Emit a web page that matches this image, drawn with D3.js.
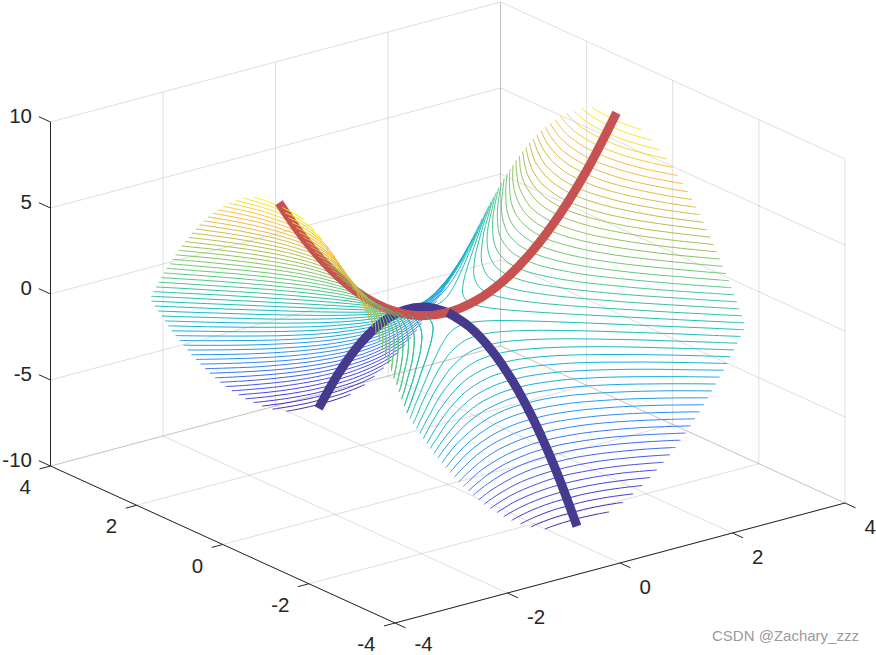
<!DOCTYPE html>
<meta charset="utf-8">
<style>
  body { margin: 0; background: #fff; }
  text { font-family: "Liberation Sans", Arial, sans-serif; fill: #262626; }
</style>
<body>
<div id="my_dataviz"></div>

<!-- Load d3.js -->
<script src="https://d3js.org/d3.v7.min.js"></script>
<script>

// Tick labels of the three axes
var xTicks = [-4, -2, 0, 2, 4];
var yTicks = [-4, -2, 0, 2, 4];
var zTicks = [-10, -5, 0, 5, 10];

// Contour levels (absolute value), the same set above and below zero
var levels = [0.17, 0.51, 0.85, 1.19, 1.53, 1.87, 2.21, 2.55, 2.89, 3.23, 3.57, 3.91, 4.25,
              4.59, 4.93, 5.27, 5.61, 5.95, 6.29, 6.63, 6.97, 7.31, 7.65, 7.99, 8.33, 8.67];

var across = [0, 0.2, 0.4, 0.7, 1, 1.4, 1.8, 2.2, 2.6, 2.9];

// Distance from the centre of each contour at the positions above
var reach = [
  [0.41, 0.46, 0.57, 0.81, 1.08, 1.46, 1.85, 2.24, 2.63, 2.93],
  [0.71, 0.74, 0.82, 1.00, 1.23, 1.57, 1.94, 2.31, 2.70],
  [0.92, 0.94, 1.00, 1.16, 1.36, 1.68, 2.02, 2.39, 2.76],
  [1.09, 1.11, 1.16, 1.30, 1.48, 1.77, 2.10, 2.46, 2.82],
  [1.24, 1.25, 1.30, 1.42, 1.59, 1.87, 2.18, 2.52, 2.88],
  [1.37, 1.38, 1.42, 1.54, 1.69, 1.96, 2.26, 2.59, 2.94],
  [1.49, 1.50, 1.54, 1.64, 1.79, 2.04, 2.33, 2.66],
  [1.60, 1.61, 1.65, 1.74, 1.88, 2.12, 2.41, 2.72],
  [1.70, 1.71, 1.75, 1.84, 1.97, 2.20, 2.48, 2.78],
  [1.80, 1.81, 1.84, 1.93, 2.06, 2.28, 2.54, 2.84],
  [1.89, 1.90, 1.93, 2.01, 2.14, 2.35, 2.61, 2.90],
  [1.98, 1.99, 2.02, 2.10, 2.22, 2.42, 2.67, 2.96],
  [2.06, 2.07, 2.10, 2.18, 2.29, 2.49, 2.74],
  [2.14, 2.15, 2.18, 2.25, 2.36, 2.56, 2.80],
  [2.22, 2.23, 2.26, 2.33, 2.44, 2.62, 2.86],
  [2.30, 2.30, 2.33, 2.40, 2.50, 2.69, 2.92],
  [2.37, 2.38, 2.40, 2.47, 2.57, 2.75, 2.97],
  [2.44, 2.45, 2.47, 2.54, 2.64, 2.81],
  [2.51, 2.52, 2.54, 2.60, 2.70, 2.87],
  [2.57, 2.58, 2.61, 2.67, 2.76, 2.93],
  [2.64, 2.65, 2.67, 2.73, 2.82],
  [2.70, 2.71, 2.73, 2.79, 2.88],
  [2.77, 2.77, 2.79, 2.85, 2.94],
  [2.83, 2.83, 2.85, 2.91],
  [2.89, 2.89, 2.91, 2.97],
  [2.94, 2.95, 2.97]
];

// Where each contour runs into the edge of the surface (at distance 3)
var edgeAcross = [2.97, 2.91, 2.85, 2.79, 2.73, 2.67, 2.61, 2.54, 2.47, 2.40, 2.33, 2.26, 2.18,
                  2.10, 2.02, 1.93, 1.84, 1.75, 1.65, 1.54, 1.42, 1.30, 1.16, 1.00, 0.82, 0.57];
var edgeReach = 3;

// The two thick curves
var redX = [-3, -2.5, -2, -1.5, -1, -0.5, 0, 0.5, 1, 1.5, 2, 2.5, 3];
var redZ = [9, 6.25, 4, 2.25, 1, 0.25, 0, 0.25, 1, 2.25, 4, 6.25, 9];
var blueY = [3, 2.5, 2, 1.5, 1, 0.5, 0];
var blueZ = [-9, -6.25, -4, -2.25, -1, -0.25, 0];
var blueNearY = [0, -0.5, -1, -1.5, -2, -2.5, -3];
var blueNearZ = [0, -0.25, -1, -2.25, -4, -6.25, -9];

// Colormap (parula)
var colorStops = ["#3e26a8", "#4748ee", "#2f87f5", "#12b1d6", "#1cbfb4", "#66c878", "#b5bd4a", "#fbba39", "#f9fb15"];

var width = 876, height = 655;

// Screen offsets of the three data axes (oblique view, all straight)
var xToPx = d3.scaleLinear().domain([-4, 4]).range([-225, 225]);
var xToPy = d3.scaleLinear().domain([-4, 4]).range([60, -60]);
var yToPx = d3.scaleLinear().domain([-4, 4]).range([172.25, -172.25]);
var yToPy = d3.scaleLinear().domain([-4, 4]).range([78.5, -78.5]);
var zToPy = d3.scaleLinear().domain([-10, 10]).range([172, -172]);
var originX = 447.75, originY = 312.5;

function px(p) { return originX + xToPx(p[0]) + yToPx(p[1]); }
function py(p) { return originY + xToPy(p[0]) + yToPy(p[1]) + zToPy(p[2]); }

var line3d = d3.line().x(px).y(py).curve(d3.curveCatmullRom.alpha(0.5));
var straight = d3.line().x(px).y(py);

var color = d3.scaleLinear()
  .domain(colorStops.map(function(c, i) { return -9 + 18 * i / (colorStops.length - 1); }))
  .range(colorStops)
  .interpolate(d3.interpolateRgb);

var svg = d3.select("#my_dataviz")
  .append("svg")
    .attr("width", width)
    .attr("height", height)
    .style("display", "block");

// Grid on the floor and the two back walls
var grid = [];
xTicks.forEach(function(t) {
  grid.push([[t, -4, -10], [t, 4, -10]]);
  grid.push([[t, 4, -10], [t, 4, 10]]);
});
yTicks.forEach(function(t) {
  grid.push([[-4, t, -10], [4, t, -10]]);
  grid.push([[4, t, -10], [4, t, 10]]);
});
zTicks.forEach(function(t) {
  grid.push([[-4, 4, t], [4, 4, t]]);
  grid.push([[4, -4, t], [4, 4, t]]);
});
svg.append("g").selectAll("path")
  .data(grid)
  .join("path")
    .attr("d", straight)
    .attr("fill", "none")
    .attr("stroke", "#262626")
    .attr("stroke-opacity", 0.15)
    .attr("stroke-width", 1);

// One branch of a contour, from one edge of the surface to the other
function branch(i) {
  var half = reach[i].map(function(u, k) { return [u, across[k]]; });
  half.push([edgeReach, edgeAcross[i]]);
  var back = half.slice(1).reverse().map(function(d) { return [d[0], -d[1]]; });
  return back.concat(half);
}

// Far lobes first so the nearer ones sit on top
var lobes = [
  {sign: -1, side: 1},   // y > 0, below zero
  {sign: 1, side: -1},   // x < 0, above zero
  {sign: 1, side: 1},    // x > 0, above zero
  {sign: -1, side: -1}   // y < 0, below zero
];

var contours = [];
var nearHalves = [];
lobes.forEach(function(lobe) {
  levels.forEach(function(level, i) {
    var z = lobe.sign * level;
    var pts = branch(i).map(function(d) {
      return lobe.sign > 0 ? [lobe.side * d[0], d[1], z] : [d[1], lobe.side * d[0], z];
    });
    contours.push({z: z, pts: pts});
    // the y < 0 half of the x < 0 lobe lies in front of the red curve
    if (lobe.sign > 0 && lobe.side < 0) {
      nearHalves.push({z: z, pts: pts.filter(function(p) { return p[1] <= 0; })});
    }
  });
});

function drawContours(data) {
  svg.append("g").selectAll("path")
    .data(data)
    .join("path")
      .attr("d", function(d) { return line3d(d.pts); })
      .attr("fill", "none")
      .attr("stroke", function(d) { return color(d.z); })
      .attr("stroke-width", 1);
}
drawContours(contours);

// Thick curves: far half of the blue one, the red one, near half of the blue one
function thick(points, col) {
  svg.append("path")
    .attr("d", line3d(points))
    .attr("fill", "none")
    .attr("stroke", col)
    .attr("stroke-width", 9);
}
thick(blueY.map(function(y, i) { return [0, y, blueZ[i]]; }), "#453a8d");
thick(redX.map(function(x, i) { return [x, 0, redZ[i]]; }), "#c85252");
drawContours(nearHalves);
thick(blueNearY.map(function(y, i) { return [0, y, blueNearZ[i]]; }), "#453a8d");

// Axis lines
var axes = [
  [[-4, 4, -10], [-4, 4, 10]],
  [[-4, 4, -10], [-4, -4, -10]],
  [[-4, -4, -10], [4, -4, -10]]
];
svg.append("g").selectAll("path")
  .data(axes)
  .join("path")
    .attr("d", straight)
    .attr("fill", "none")
    .attr("stroke", "#262626")
    .attr("stroke-width", 1);

// Ticks and their labels
function tick(p, q) {
  svg.append("path")
    .attr("d", straight([p, q]))
    .attr("fill", "none")
    .attr("stroke", "#262626")
    .attr("stroke-width", 1);
}
function label(p, dx, dy, anchor, t) {
  svg.append("text")
    .attr("x", px(p) + dx)
    .attr("y", Math.min(py(p) + dy, 643.5))
    .attr("text-anchor", anchor)
    .attr("dominant-baseline", "central")
    .attr("font-size", 20.5)
    .text(t);
}
zTicks.forEach(function(t) {
  tick([-4, 4, t], [-4, 4.27, t]);
  label([-4, 4, t], -18.5, -7, "end", t);
});
yTicks.forEach(function(t) {
  tick([-4, t, -10], [-4.195, t, -10]);
  label([-4, t, -10], -19.5, 20.5, "end", t);
});
xTicks.forEach(function(t) {
  tick([t, -4, -10], [t, -4.245, -10]);
  label([t, -4, -10], 19.5, 23, "start", t);
});

// Watermark
svg.append("text")
  .attr("x", 712)
  .attr("y", 641)
  .attr("font-size", 15)
  .style("fill", "#9a9a9a")
  .text("CSDN @Zachary_zzz");

</script>
</body>
